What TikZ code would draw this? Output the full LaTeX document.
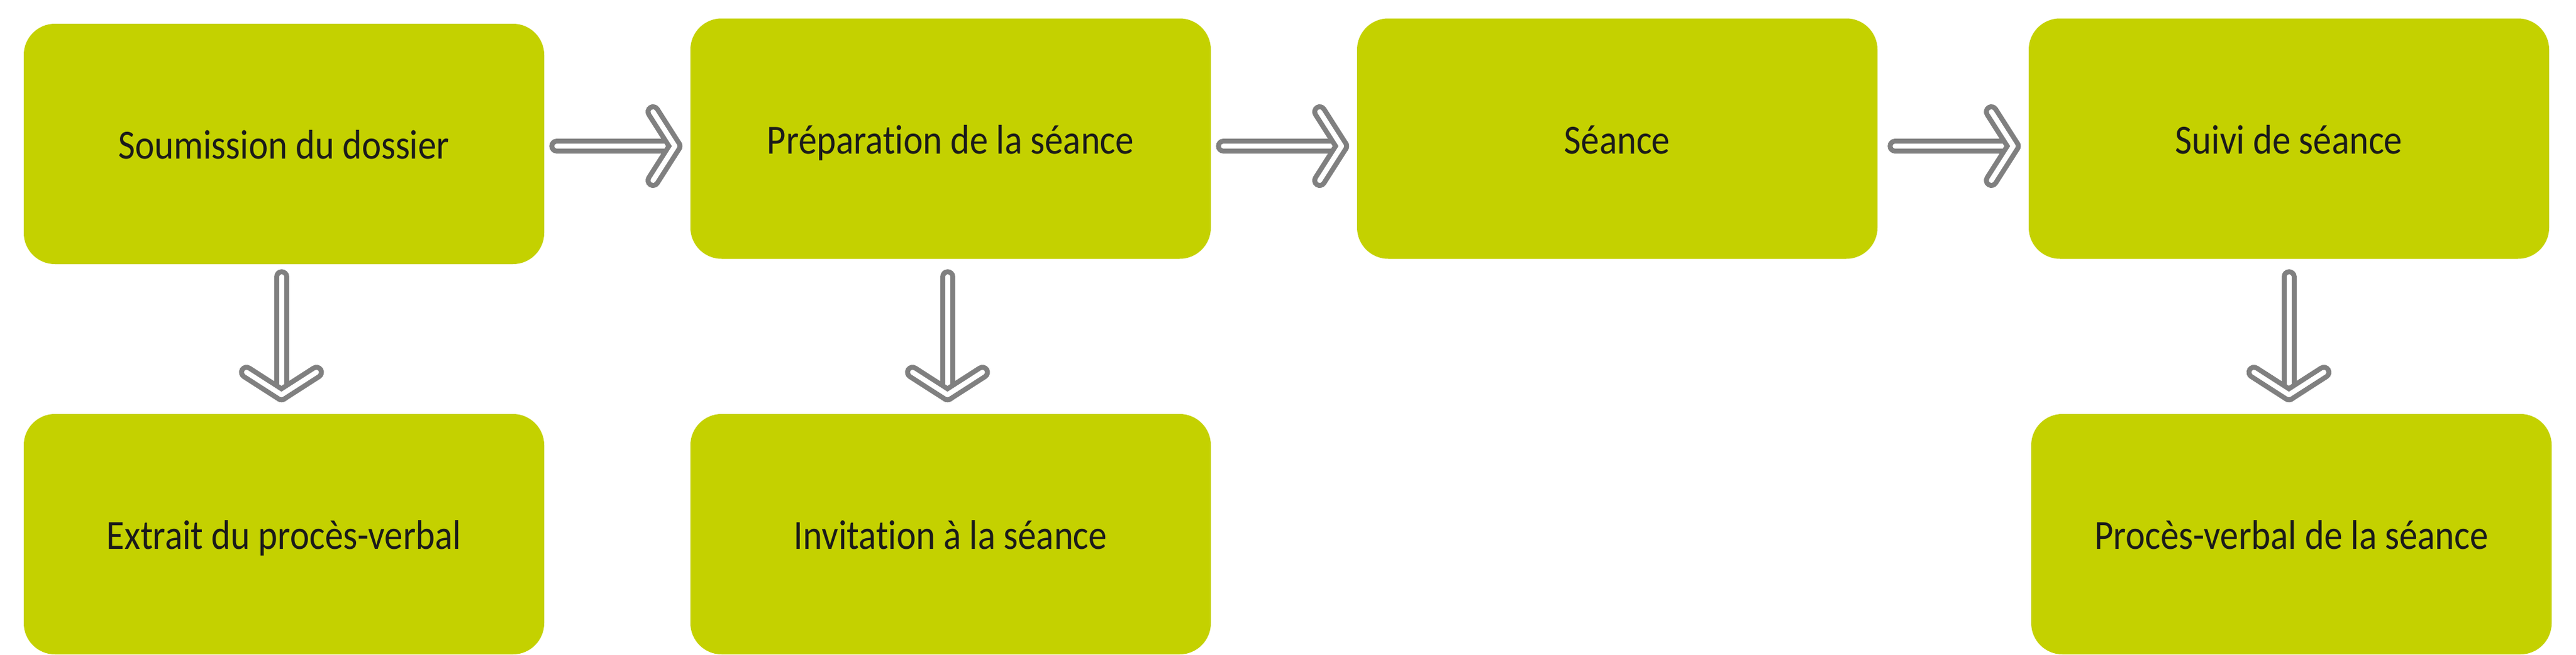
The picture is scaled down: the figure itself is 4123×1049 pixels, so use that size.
\documentclass[tikz,border=0pt]{standalone}
\usepackage{fontspec}
\setmainfont{Carlito}[FakeStretch=0.885, Ligatures=NoCommon]
\usepackage{tikz}
\usetikzlibrary{calc}

\definecolor{stepgreen}{RGB}{196,209,0}
\definecolor{arrowgray}{RGB}{128,128,128}
\definecolor{textdark}{RGB}{26,26,26}

\tikzset{
    stepbox/.style={fill=stepgreen, rounded corners=12.5pt, minimum width=208.25pt,
        minimum height=96.25pt, inner sep=0pt, text=textdark, text height=12pt,
        text depth=0pt, font=\fontsize{16.6}{20}\selectfont},
    flow/.style={draw=arrowgray, line width=2pt, double=white, double distance=2pt,
        line cap=round, line join=round}
}

\begin{document}
\begin{tikzpicture}[x=0.25pt, y=-0.25pt]

    % Fix the size of the picture
    \useasboundingbox (0,0) rectangle (4123,1049);

    % Draw the steps of the procedure
    \node[stepbox] (soumission) at (454.5,230.5) {Soumission du dossier};
    \node[stepbox] (preparation) at (1521.5,222) {Préparation de la séance};
    \node[stepbox] (seance) at (2588.5,222) {Séance};
    \node[stepbox] (suivi) at (3663.5,222) {Suivi de séance};

    % Draw the documents produced
    \node[stepbox] (extrait) at (454.5,855.5) {Extrait du procès-verbal};
    \node[stepbox] (invitation) at (1521.5,855.5) {Invitation à la séance};
    \node[stepbox] (pv) at (3667.5,855.5) {Procès-verbal de la séance};

    % Draw the arrows between the steps
    \foreach \a/\b in {soumission/preparation, preparation/seance, seance/suivi} {
        \draw[flow] ($(\b.west)+(-213,12)$) -- ($(\b.west)+(-24,12)$);
        \draw[flow] ($(\b.west)+(-59,-43)$) -- ($(\b.west)+(-24,12)$) -- ($(\b.west)+(-59,67)$);
    }

    % Draw the arrows down to the documents
    \foreach \a/\b/\s in {soumission/extrait/-4, preparation/invitation/-5, suivi/pv/0} {
        \draw[flow] ($(\a.south |- \b.north)+(\s,-219)$) -- ($(\a.south |- \b.north)+(\s,-30)$);
        \draw[flow] ($(\a.south |- \b.north)+(\s-56,-66)$) -- ($(\a.south |- \b.north)+(\s,-30)$) -- ($(\a.south |- \b.north)+(\s+56,-66)$);
    }

\end{tikzpicture}
\end{document}
